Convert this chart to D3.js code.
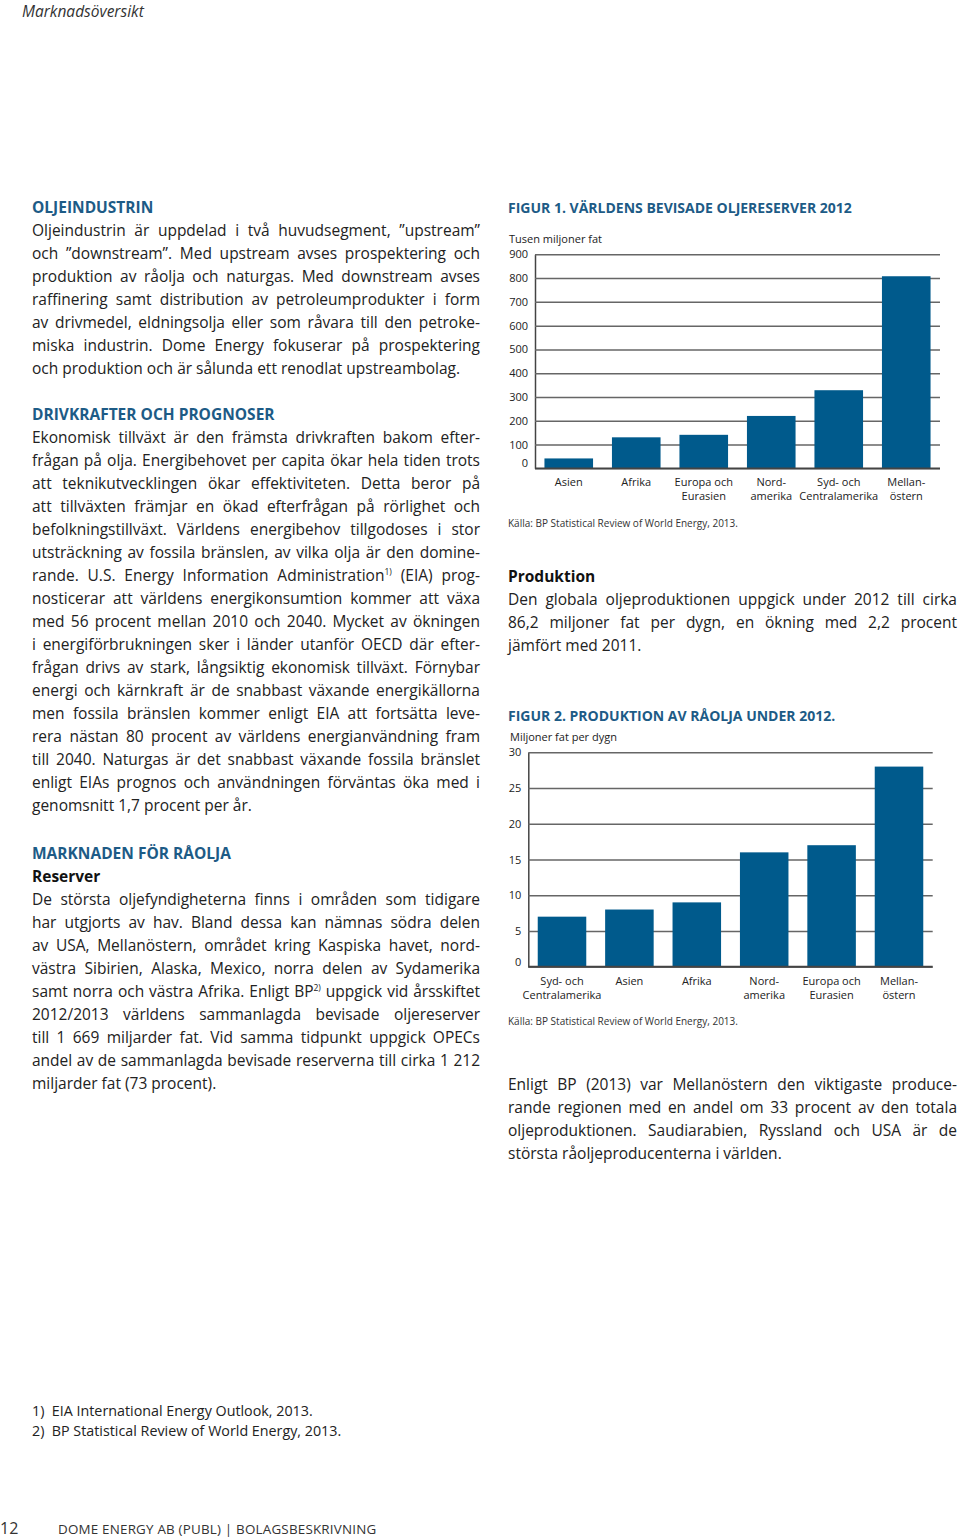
<!DOCTYPE html>
<html><head><meta charset="utf-8">
<script src="https://cdn.jsdelivr.net/npm/d3@7"></script>
<style>
body{margin:0;background:#fff;}
#page{position:relative;width:960px;height:1540px;overflow:hidden;font-family:"Open Sans",sans-serif;color:#222;}
svg{position:absolute;left:0;top:0;}
.ln{position:absolute;height:23px;line-height:23px;font-size:15.5px;text-align:justify;text-align-last:justify;color:#222;}
.ln.last{text-align-last:left;}
.hd{position:absolute;height:23px;line-height:23px;font-size:15.5px;font-weight:700;color:#1d5b86;}
.sub{position:absolute;height:23px;line-height:23px;font-size:15.5px;font-weight:700;color:#111;}
sup{font-size:0.55em;vertical-align:0.75em;line-height:0;}
</style></head>
<body><div id="page"></div>
<script>
// ---------- DATA ----------
const reserveCategories = [["Asien"],["Afrika"],["Europa och","Eurasien"],["Nord-","amerika"],["Syd- och","Centralamerika"],["Mellan-","östern"]];
const reserveValues = [41.5,130.3,140.8,220.2,328.4,807.7];
const reserveTicks = [0,100,200,300,400,500,600,700,800,900];
const prodCategories = [["Syd- och","Centralamerika"],["Asien"],["Afrika"],["Nord-","amerika"],["Europa och","Eurasien"],["Mellan-","östern"]];
const prodValues = [7,8,9,16,17,28];
const prodTicks = [0,5,10,15,20,25,30];

const fig1Title = "FIGUR 1. VÄRLDENS BEVISADE OLJERESERVER 2012";
const fig1Unit = "Tusen miljoner fat";
const fig2Title = "FIGUR 2. PRODUKTION AV RÅOLJA UNDER 2012.";
const fig2Unit = "Miljoner fat per dygn";
const sourceText = "Källa: BP Statistical Review of World Energy, 2013.";

const leftBlocks = [
  {type:"hd", y:207, text:"OLJEINDUSTRIN"},
  {type:"p", y:230, lines:[
    "Oljeindustrin är uppdelad i två huvudsegment, ”upstream”",
    "och ”downstream”. Med upstream avses prospektering och",
    "produktion av råolja och naturgas. Med downstream avses",
    "raffinering samt distribution av petroleumprodukter i form",
    "av drivmedel, eldningsolja eller som råvara till den petroke-",
    "miska industrin. Dome Energy fokuserar på prospektering",
    "och produktion och är sålunda ett renodlat upstreambolag."]},
  {type:"hd", y:414, text:"DRIVKRAFTER OCH PROGNOSER"},
  {type:"p", y:437, lines:[
    "Ekonomisk tillväxt är den främsta drivkraften bakom efter-",
    "frågan på olja. Energibehovet per capita ökar hela tiden trots",
    "att teknikutvecklingen ökar effektiviteten. Detta beror på",
    "att tillväxten främjar en ökad efterfrågan på rörlighet och",
    "befolkningstillväxt. Världens energibehov tillgodoses i stor",
    "utsträckning av fossila bränslen, av vilka olja är den domine-",
    "rande. U.S. Energy Information Administration<sup>1)</sup> (EIA) prog-",
    "nosticerar att världens energikonsumtion kommer att växa",
    "med 56 procent mellan 2010 och 2040. Mycket av ökningen",
    "i energiförbrukningen sker i länder utanför OECD där efter-",
    "frågan drivs av stark, långsiktig ekonomisk tillväxt. Förnybar",
    "energi och kärnkraft är de snabbast växande energikällorna",
    "men fossila bränslen kommer enligt EIA att fortsätta leve-",
    "rera nästan 80 procent av världens energianvändning fram",
    "till 2040. Naturgas är det snabbast växande fossila bränslet",
    "enligt EIAs prognos och användningen förväntas öka med i",
    "genomsnitt 1,7 procent per år."]},
  {type:"hd", y:853, text:"MARKNADEN FÖR RÅOLJA"},
  {type:"sub", y:876, text:"Reserver"},
  {type:"p", y:899, lines:[
    "De största oljefyndigheterna finns i områden som tidigare",
    "har utgjorts av hav. Bland dessa kan nämnas södra delen",
    "av USA, Mellanöstern, området kring Kaspiska havet, nord-",
    "västra Sibirien, Alaska, Mexico, norra delen av Sydamerika",
    "samt norra och västra Afrika. Enligt BP<sup>2)</sup> uppgick vid årsskiftet",
    "2012/2013 världens sammanlagda bevisade oljereserver",
    "till 1 669 miljarder fat. Vid samma tidpunkt uppgick OPECs",
    "andel av de sammanlagda bevisade reserverna till cirka 1 212",
    "miljarder fat (73 procent)."]}
];
const rightBlocks = [
  {type:"sub", y:576, text:"Produktion"},
  {type:"p", y:599, lines:[
    "Den globala oljeproduktionen uppgick under 2012 till cirka",
    "86,2 miljoner fat per dygn, en ökning med 2,2 procent",
    "jämfört med 2011."]},
  {type:"p", y:1084, lines:[
    "Enligt BP (2013) var Mellanöstern den viktigaste produce-",
    "rande regionen med en andel om 33 procent av den totala",
    "oljeproduktionen. Saudiarabien, Ryssland och USA är de",
    "största råoljeproducenterna i världen."]}
];
const footnotes = ["1)\u00a0\u00a0EIA International Energy Outlook, 2013.","2)\u00a0\u00a0BP Statistical Review of World Energy, 2013."];

// ---------- RENDER ----------
const page = d3.select("#page");
const svg = page.append("svg").attr("width",960).attr("height",1540);

function drawBlocks(blocks, x, w){
  blocks.forEach(b=>{
    if(b.type==="p"){
      b.lines.forEach((t,i)=>{
        page.append("div").attr("class","ln"+(i===b.lines.length-1?" last":""))
          .style("left",x+"px").style("width",w+"px").style("top",(b.y+i*23-11.5)+"px")
          .html(t);
      });
    } else {
      page.append("div").attr("class",b.type).style("left",x+"px").style("top",(b.y-11.5)+"px").text(b.text);
    }
  });
}
drawBlocks(leftBlocks, 32, 448);
drawBlocks(rightBlocks, 508, 449);

// header & footer
svg.append("text").attr("x",22).attr("y",17).attr("font-size",15.5).attr("font-style","italic")
  .attr("fill","#333").attr("font-family","Open Sans").text("Marknadsöversikt");
footnotes.forEach((t,i)=>{
  svg.append("text").attr("x",32).attr("y",1416+i*19.5).attr("font-size",14.3)
    .attr("fill","#222").attr("font-family","Open Sans").text(t);
});
svg.append("text").attr("x",0).attr("y",1534).attr("font-size",16).attr("fill","#333")
  .attr("font-family","Open Sans").text("12");
svg.append("text").attr("x",58).attr("y",1534).attr("font-size",13.4).attr("fill","#333")
  .attr("font-family","Open Sans").attr("letter-spacing",0.2).text("DOME ENERGY AB (PUBL)  |  BOLAGSBESKRIVNING");

const BAR = "#005a8c", TITLE = "#1d5b86", GRID = "#666";

function barChart(o){
  const g = svg.append("g").attr("font-family","Open Sans");
  const x = d3.scaleBand().domain(d3.range(o.values.length)).range([o.x0,o.x1]).paddingInner(0.28).paddingOuter(0.14);
  const y = d3.scaleLinear().domain([0,o.max]).range([o.y0,o.y1]);
  g.append("text").attr("x",508).attr("y",o.titleY).attr("font-size",14).attr("font-weight",700)
    .attr("fill",TITLE).text(o.title);
  g.append("text").attr("x",o.unitX).attr("y",o.unitY).attr("font-size",11).attr("fill","#222").text(o.unit);
  const ax = g.append("g").attr("transform",`translate(${o.x0},0)`)
    .call(d3.axisLeft(y).tickValues(o.ticks).tickSize(-(o.x1-o.x0)).tickSizeOuter(0).tickPadding(7));
  ax.select(".domain").attr("stroke","#444").attr("stroke-width",1.5);
  ax.selectAll(".tick line").attr("stroke",GRID).attr("stroke-width",1.5);
  ax.selectAll(".tick text").attr("font-size",11).attr("fill","#222").attr("font-family","Open Sans")
    .attr("dy",d=>d===0?"-0.15em":"0.32em");
  g.selectAll("rect.bar").data(o.values).join("rect").attr("class","bar")
    .attr("x",(d,i)=>x(i)).attr("width",x.bandwidth())
    .attr("y",d=>y(d)).attr("height",d=>y(0)-y(d)).attr("fill",BAR);
  g.append("line").attr("x1",o.x0).attr("x2",o.x1).attr("y1",y(0)).attr("y2",y(0)).attr("stroke","#444").attr("stroke-width",1.8);
  o.cats.forEach((c,i)=>{
    c.forEach((t,j)=>{
      g.append("text").attr("x",x(i)+x.bandwidth()/2).attr("y",o.labY+j*14).attr("text-anchor","middle")
        .attr("font-size",11).attr("fill","#222").text(t);
    });
  });
  g.append("text").attr("x",508).attr("y",o.srcY).attr("font-size",10).attr("fill","#333").text(sourceText);
}

barChart({values:reserveValues,cats:reserveCategories,ticks:reserveTicks,max:900,
  x0:535,x1:940,y0:468.3,y1:254.3,title:fig1Title,titleY:213,unit:fig1Unit,unitX:509,unitY:243,labY:486,srcY:527});
barChart({values:prodValues,cats:prodCategories,ticks:prodTicks,max:30,
  x0:528.3,x1:932.7,y0:966.7,y1:752.3,title:fig2Title,titleY:721,unit:fig2Unit,unitX:510,unitY:741,labY:985,srcY:1025});
</script></body></html>
